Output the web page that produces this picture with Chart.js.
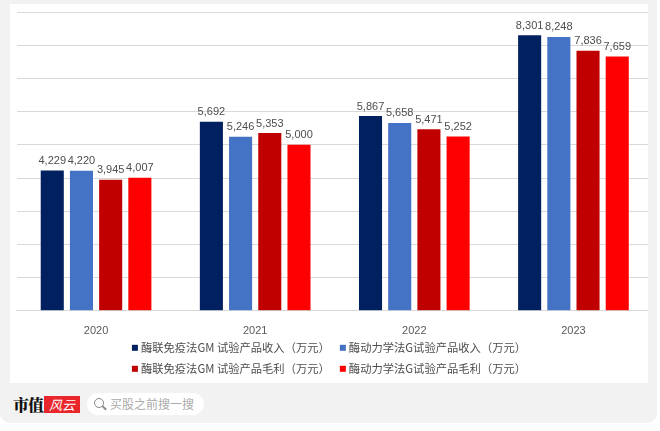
<!DOCTYPE html>
<html>
<head>
<meta charset="utf-8">
<script src="https://cdn.jsdelivr.net/npm/chart.js@4.4.0/dist/chart.umd.min.js"></script>
<style>
  html, body { margin: 0; padding: 0; background: #fff; }
  body { width: 660px; height: 431px; position: relative; overflow: hidden; font-family: "Noto Sans CJK SC", sans-serif; }
  #frame { position: absolute; left: 0; top: 0; width: 657px; height: 423px; background: #f2f2f2; border-radius: 0 0 10px 10px; }
  #panel { position: absolute; left: 10px; top: 4px; width: 638px; height: 379px; background: #fff; overflow: hidden; }
  #chartBox { position: absolute; left: 0; top: 0; width: 643px; height: 379px; }
  #brand { position: absolute; left: 13px; top: 393px; font-size: 16px; font-weight: 900; color: #111; letter-spacing: -1px; font-family: "Noto Serif CJK SC", "Noto Sans CJK SC", serif; }
  #logo { position: absolute; left: 44px; top: 396px; width: 36px; height: 17px; background: #e8262b; color: #fff; font-size: 13px; line-height: 17px; text-align: center; font-style: italic; }
  #search { position: absolute; left: 87px; top: 393px; width: 117px; height: 22px; background: #fff; border-radius: 11px; color: #aaa; font-size: 12px; line-height: 22px; }
  #search span { position: absolute; left: 23px; top: 0; }
  #search i { position: absolute; left: 7px; top: 5px; width: 8px; height: 8px; border: 1.5px solid #888; border-radius: 50%; }
  #search b { position: absolute; left: 15px; top: 14px; width: 5px; height: 1.5px; background: #888; transform: rotate(45deg); }
</style>
</head>
<body>
<div id="frame"></div>
<div id="panel"><div id="chartBox"><canvas id="salesChart"></canvas></div></div>
<div id="brand">市值</div>
<div id="logo">风云</div>
<div id="search"><i></i><b></b><span>买股之前搜一搜</span></div>
<script>
document.addEventListener('DOMContentLoaded', function () {
    const years = ['2020', '2021', '2022', '2023'];
    const elisaRevenue = [4229, 5692, 5867, 8301];
    const kineticRevenue = [4220, 5246, 5658, 8248];
    const elisaProfit = [3945, 5353, 5471, 7836];
    const kineticProfit = [4007, 5000, 5252, 7659];
    const seriesNames = [
        '酶联免疫法GM 试验产品收入（万元）',
        '酶动力学法G试验产品收入（万元）',
        '酶联免疫法GM 试验产品毛利（万元）',
        '酶动力学法G试验产品毛利（万元）'
    ];
    const colors = ['#002060', '#4472C4', '#C00000', '#FF0000'];
    const numFont = '11px "Liberation Sans Narrow", "Liberation Sans", sans-serif';

    // value labels above each bar
    const valueLabels = {
        id: 'valueLabels',
        afterDatasetsDraw(chart) {
            const ctx = chart.ctx;
            ctx.save();
            ctx.font = numFont;
            ctx.fillStyle = '#4d4d4d';
            ctx.textAlign = 'center';
            ctx.textBaseline = 'bottom';
            chart.data.datasets.forEach((ds, i) => {
                chart.getDatasetMeta(i).data.forEach((bar, j) => {
                    ctx.fillText(ds.data[j].toLocaleString('en-US'), bar.x, bar.y - 4);
                });
            });
            ctx.restore();
        }
    };

    // 2 x 2 legend under the axis
    const gridLegend = {
        id: 'gridLegend',
        afterDraw(chart) {
            const ctx = chart.ctx;
            ctx.save();
            ctx.font = '11.3px "Noto Sans CJK SC", sans-serif';
            ctx.textBaseline = 'middle';
            const box = 6, gap = 3, colGap = 10;
            const widths = chart.data.datasets.map(ds => box + gap + ctx.measureText(ds.label).width);
            const col1 = Math.max(widths[0], widths[2]);
            const col2 = Math.max(widths[1], widths[3]);
            const total = col1 + colGap + col2;
            const x0 = (chart.width - 5) / 2 - total / 2;
            const rows = [chart.chartArea.bottom + 37, chart.chartArea.bottom + 58];
            chart.data.datasets.forEach((ds, i) => {
                const x = (i % 2 === 0) ? x0 : x0 + col1 + colGap;
                const y = rows[Math.floor(i / 2)];
                ctx.fillStyle = ds.backgroundColor;
                ctx.fillRect(x, y - box / 2, box, box);
                ctx.fillStyle = '#4d4d4d';
                ctx.fillText(ds.label, x + box + gap, y);
            });
            ctx.restore();
        }
    };

    const series = [elisaRevenue, kineticRevenue, elisaProfit, kineticProfit];

    new Chart(document.getElementById('salesChart'), {
        type: 'bar',
        data: {
            labels: years,
            datasets: series.map((values, i) => ({
                label: seriesNames[i],
                data: values,
                backgroundColor: colors[i],
                categoryPercentage: 0.734,
                barPercentage: 0.79
            }))
        },
        options: {
            responsive: true,
            maintainAspectRatio: false,
            animation: false,
            layout: {
                padding: { left: 6.5, right: 0, top: 8, bottom: 39 }
            },
            scales: {
                x: {
                    grid: { display: false },
                    border: { display: true, color: '#d9d9d9' },
                    ticks: {
                        color: '#595959',
                        padding: 6,
                        font: { family: '"Liberation Sans Narrow", "Liberation Sans", sans-serif', size: 11 }
                    }
                },
                y: {
                    min: 0,
                    max: 9000,
                    ticks: { display: false, stepSize: 1000 },
                    border: { display: false },
                    grid: { color: '#d9d9d9', drawTicks: false }
                }
            },
            plugins: {
                legend: { display: false },
                tooltip: { enabled: false }
            }
        },
        plugins: [valueLabels, gridLegend]
    });
});
</script>
</body>
</html>
